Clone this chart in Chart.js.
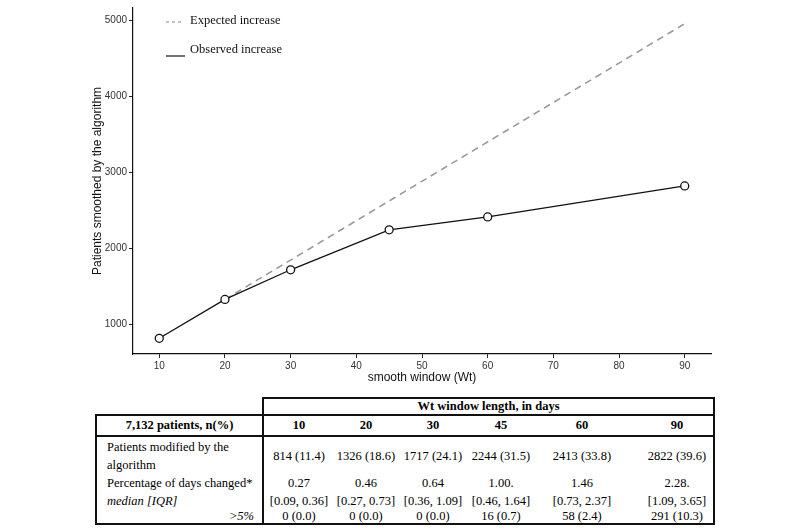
<!DOCTYPE html>
<html>
<head>
<meta charset="utf-8">
<script src="https://cdn.jsdelivr.net/npm/chart.js@4"></script>
<style>
  html, body { margin: 0; padding: 0; background: #fff; }
  body { width: 800px; height: 531px; overflow: hidden; position: relative; }
  .chart-box { position: absolute; left: 0; top: 0; width: 800px; height: 390px; }
  .res-table {
    position: absolute; left: 95px; top: 397px; width: 620px;
    border-collapse: separate; border-spacing: 0; table-layout: fixed;
    font-family: "Liberation Serif", "Times New Roman", serif; font-size: 12.5px; color: #000;
  }
  .res-table td { padding: 0; line-height: 18px; white-space: nowrap; text-align: center; vertical-align: middle; }
  .res-table .lbl { text-align: left; padding-left: 10px; }
  .res-table .gt { text-align: right; padding-right: 8px; font-style: italic; }
  .b-t { border-top: 2px solid #111; }
  .b-b { border-bottom: 2px solid #111; }
  .b-l { border-left: 2px solid #111; }
  .b-r { border-right: 2px solid #111; }
</style>
</head>
<body>
<div class="chart-box"><canvas id="myChart"></canvas></div>
<table class="res-table" id="table-1">
  <colgroup id="cols"></colgroup>
  <tbody></tbody>
</table>
<script>
// chart data
const windowDays = [10, 20, 30, 45, 60, 90];
const observedPatients = [814, 1326, 1717, 2244, 2413, 2822];
const expectedDays = [20, 90];
const expectedPatients = [1326, 4960];
const xTickValues = [10, 20, 30, 40, 50, 60, 70, 80, 90];
const yTickValues = [1000, 2000, 3000, 4000, 5000];

// table data
const tableTitle = '7,132 patients, n(%)';
const tableSpan = 'Wt window length, in days';
const tableWindows = ['10', '20', '30', '45', '60', '90'];
const modifiedText = ['814 (11.4)', '1326 (18.6)', '1717 (24.1)', '2244 (31.5)', '2413 (33.8)', '2822 (39.6)'];
const medianText = ['0.27', '0.46', '0.64', '1.00.', '1.46', '2.28.'];
const iqrText = ['[0.09, 0.36]', '[0.27, 0.73]', '[0.36, 1.09]', '[0.46, 1.64]', '[0.73, 2.37]', '[1.09, 3.65]'];
const over5Text = ['0 (0.0)', '0 (0.0)', '0 (0.0)', '16 (0.7)', '58 (2.4)', '291 (10.3)'];

// column layout of the table
const colWidths = [167, 72, 64, 70, 66, 96, 85];
const colShift = [0, 0, 0, 0, 0, 0, 11];

const $cols = document.getElementById('cols');
colWidths.forEach(w => {
  const c = document.createElement('col');
  c.style.width = w + 'px';
  $cols.appendChild(c);
});

// one <td> per window column, lh = line height in px
function cellsRow(texts, cls, lh) {
  return texts.map((t, i) => {
    let c = cls;
    if (i === 0) c += ' b-l';
    if (i === texts.length - 1) c += ' b-r';
    let st = `line-height:${lh}px;`;
    if (colShift[i + 1]) st += `padding-left:${colShift[i + 1]}px;`;
    return `<td class="${c}" style="${st}">${t}</td>`;
  }).join('');
}

const $tbody = document.querySelector('#table-1 tbody');
$tbody.innerHTML =
  `<tr><td></td><td colspan="6" class="b-t b-l b-r" style="line-height:15px"><b>${tableSpan}</b></td></tr>` +
  `<tr><td class="b-t b-b b-l" style="line-height:19px"><b>${tableTitle}</b></td>` +
    cellsRow(tableWindows.map(t => `<b>${t}</b>`), 'b-t b-b', 19) + `</tr>` +
  `<tr><td class="lbl b-l" style="padding-top:1px">Patients modified by the<br>algorithm</td>` +
    cellsRow(modifiedText, '', 18) + `</tr>` +
  `<tr><td class="lbl b-l">Percentage of days changed*<br><i>median [IQR]</i></td>` +
    cellsRow(medianText.map((m, i) => `${m}<br>${iqrText[i]}`), '', 18) + `</tr>` +
  `<tr><td class="gt b-l b-b" style="line-height:13px">&gt;5%</td>` +
    cellsRow(over5Text, 'b-b', 13) + `</tr>`;

// legend drawn inside the plot, top left
const insideLegend = {
  id: 'insideLegend',
  afterDraw(chart) {
    const ctx = chart.ctx;
    const items = [
      {ds: chart.data.datasets[1], y: 21, lineY: 22, dash: [3, 3], x1: 166, x2: 184},
      {ds: chart.data.datasets[0], y: 50, lineY: 56, dash: [], x1: 166, x2: 185}
    ];
    ctx.save();
    items.forEach(it => {
      ctx.beginPath();
      ctx.setLineDash(it.dash);
      ctx.strokeStyle = it.ds.borderColor;
      ctx.lineWidth = 1.2;
      ctx.moveTo(it.x1, it.lineY);
      ctx.lineTo(it.x2, it.lineY);
      ctx.stroke();
      ctx.setLineDash([]);
      ctx.fillStyle = '#111';
      ctx.font = '12.5px "Liberation Serif", "Times New Roman", serif';
      ctx.textBaseline = 'middle';
      ctx.textAlign = 'left';
      ctx.fillText(it.ds.label, 190, it.y);
    });
    ctx.restore();
  }
};

const observed = windowDays.map((x, i) => ({x, y: observedPatients[i]}));
const expected = expectedDays.map((x, i) => ({x, y: expectedPatients[i]}));

const tickFont = {family: '"Liberation Sans", Arial, sans-serif', size: 10};
const titleFont = {family: '"Liberation Sans", Arial, sans-serif', size: 12};

const config = {
  type: 'line',
  data: {
    datasets: [{
      label: 'Observed increase',
      data: observed,
      borderColor: '#111',
      borderWidth: 1.3,
      pointRadius: 4,
      pointBackgroundColor: '#fff',
      pointBorderColor: '#111',
      pointBorderWidth: 1.3,
      order: 0
    },
    {
      label: 'Expected increase',
      data: expected,
      borderColor: '#9a9a9a',
      borderWidth: 1.6,
      borderDash: [7, 5],
      pointRadius: 0,
      order: 1
    }]
  },
  options: {
    responsive: true,
    maintainAspectRatio: false,
    animation: false,
    layout: {padding: {left: 84, right: 89, top: 2, bottom: 0}},
    plugins: {legend: {display: false}, tooltip: {enabled: false}},
    scales: {
      x: {
        type: 'linear',
        min: 6, max: 94,
        afterBuildTicks: s => { s.ticks = xTickValues.map(v => ({value: v})); },
        afterFit: s => { s.height = 36; },
        grid: {drawOnChartArea: false, drawTicks: true, tickLength: 4, color: '#222'},
        border: {display: true, color: '#111', width: 1.2},
        ticks: {font: tickFont, color: '#333', padding: 2, maxRotation: 0, callback: v => String(v)},
        title: {display: true, text: 'smooth window (Wt)', font: titleFont, color: '#111', padding: {top: 0, bottom: 5}}
      },
      y: {
        min: 607, max: 5167,
        afterBuildTicks: s => { s.ticks = yTickValues.map(v => ({value: v})); },
        afterFit: s => { s.width = 49; },
        grid: {drawOnChartArea: false, drawTicks: true, tickLength: 4, color: '#222'},
        border: {display: true, color: '#111', width: 1.2},
        ticks: {font: tickFont, color: '#333', padding: 2, callback: v => String(v)},
        title: {display: true, text: 'Patients smoothed by the algorithm', font: titleFont, color: '#111', padding: {top: 6, bottom: 0}}
      }
    }
  },
  plugins: [insideLegend]
};

const myChart = new Chart(document.getElementById('myChart'), config);
</script>
</body>
</html>
